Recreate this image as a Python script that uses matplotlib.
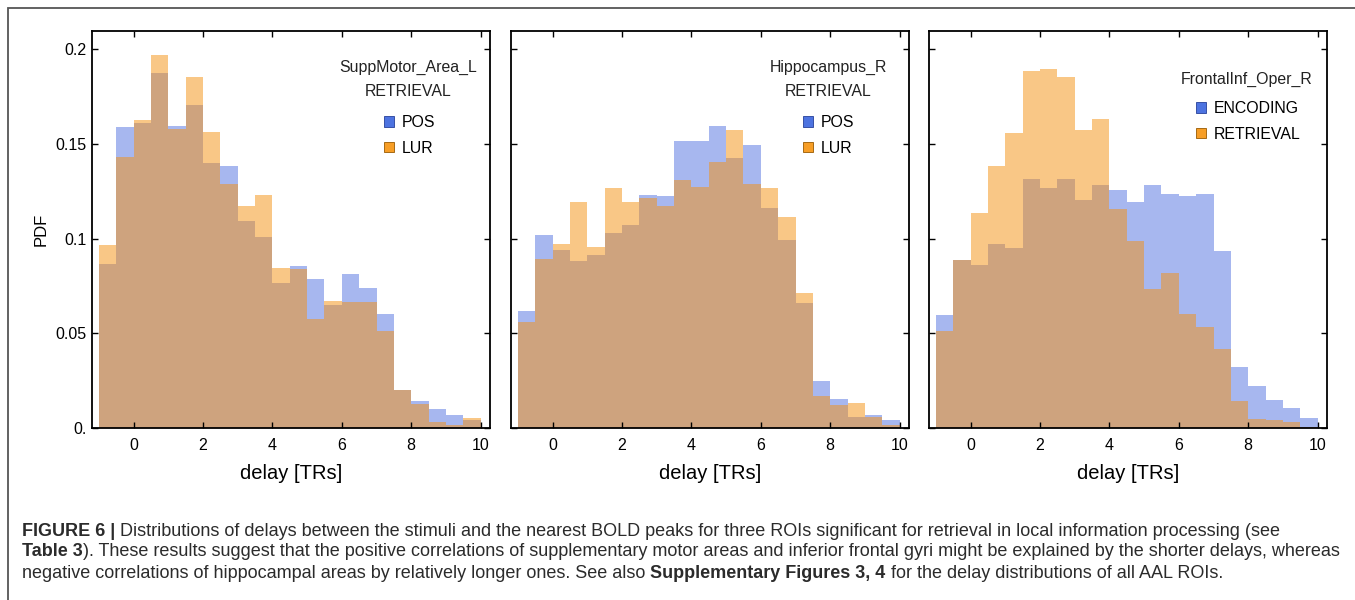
import matplotlib
matplotlib.use("Agg")
import matplotlib.pyplot as plt
import numpy as np
from matplotlib.patches import Patch, Rectangle

W, H = 1355, 600

# bin left edges, width 0.5 TR
bin_left = np.arange(-1.0, 10.0, 0.5)
BIN_W = 0.5

# panel 1: SuppMotor_Area_L, RETRIEVAL
smA_pos = [0.0865, 0.1588, 0.1610, 0.1877, 0.1595, 0.1708, 0.1402, 0.1386, 0.1091, 0.1008, 0.0765,
           0.0855, 0.0785, 0.0651, 0.0811, 0.0742, 0.0600, 0.0199, 0.0141, 0.0100, 0.0069, 0.0044]
smA_lur = [0.0964, 0.1434, 0.1627, 0.1968, 0.1578, 0.1854, 0.1562, 0.1289, 0.1175, 0.1233, 0.0846,
           0.0841, 0.0575, 0.0672, 0.0665, 0.0665, 0.0512, 0.0199, 0.0128, 0.0030, 0.0018, 0.0055]

# panel 2: Hippocampus_R, RETRIEVAL
hip_pos = [0.0616, 0.1022, 0.0938, 0.0883, 0.0916, 0.1031, 0.1071, 0.1233, 0.1226, 0.1516, 0.1516,
           0.1594, 0.1428, 0.1495, 0.1161, 0.0994, 0.0660, 0.0248, 0.0153, 0.0056, 0.0069, 0.0040]
hip_lur = [0.0559, 0.0895, 0.0973, 0.1196, 0.0957, 0.1267, 0.1196, 0.1217, 0.1170, 0.1311, 0.1275,
           0.1404, 0.1574, 0.1288, 0.1267, 0.1113, 0.0712, 0.0167, 0.0120, 0.0132, 0.0056, 0.0014]

# panel 3: FrontalInf_Oper_R, ENCODING vs RETRIEVAL
fio_enc = [0.0598, 0.0888, 0.0862, 0.0973, 0.0952, 0.1316, 0.1268, 0.1316, 0.1203, 0.1281, 0.1258,
           0.1196, 0.1286, 0.1237, 0.1226, 0.1237, 0.0934, 0.0320, 0.0220, 0.0150, 0.0104, 0.0051]
fio_ret = [0.0515, 0.0888, 0.1138, 0.1383, 0.1558, 0.1887, 0.1896, 0.1854, 0.1576, 0.1631, 0.1157,
           0.0990, 0.0732, 0.0818, 0.0602, 0.0536, 0.0417, 0.0144, 0.0049, 0.0044, 0.0030, 0.0004]

y_ticks = [0, 0.05, 0.1, 0.15, 0.2]
y_ticklabels = ["0.", "0.05", "0.1", "0.15", "0.2"]
x_ticks = [0, 2, 4, 6, 8, 10]

BLUE = (0.318, 0.443, 0.882)
ORANGE = (0.96, 0.57, 0.06)
BLUE_SW = (0.30, 0.45, 0.88)
ORANGE_SW = (0.97, 0.62, 0.15)

plt.rcParams['font.family'] = ['Liberation Sans', 'DejaVu Sans']


def fx(x):
    return x / W


def fy(y):
    return 1 - y / H


fig = plt.figure(figsize=(W / 100, H / 100), dpi=100, facecolor='w')

# outer caption box (open towards right/bottom, like the crop)
fig.patches.append(Rectangle((fx(8), -0.1), 1.2, fy(8) + 0.1, transform=fig.transFigure,
                             fill=False, edgecolor='#555555', lw=1.3))

panels = [
    dict(left=92, a=smA_pos, b=smA_lur, la="POS", lb="LUR",
         title=["SuppMotor_Area_L", "RETRIEVAL"], tx=408, ty=[67, 92], lgx=384, lgy=115),
    dict(left=511, a=hip_pos, b=hip_lur, la="POS", lb="LUR",
         title=["Hippocampus_R", "RETRIEVAL"], tx=828, ty=[67, 92], lgx=803, lgy=115),
    dict(left=929, a=fio_enc, b=fio_ret, la="ENCODING", lb="RETRIEVAL",
         title=["FrontalInf_Oper_R"], tx=1247, ty=[79], lgx=1196, lgy=101),
]

for i, p in enumerate(panels):
    ax = fig.add_axes([fx(p['left']), fy(428), 398 / W, 397 / H])
    ax.bar(bin_left, p['a'], width=BIN_W, align='edge', color=BLUE, alpha=0.5, lw=0)
    ax.bar(bin_left, p['b'], width=BIN_W, align='edge', color=ORANGE, alpha=0.5, lw=0)
    ax.set_xlim(-1.2, 10.27)
    ax.set_ylim(0, 0.2097)
    ax.set_xticks(x_ticks)
    ax.set_yticks(y_ticks)
    if i == 0:
        ax.set_yticklabels(y_ticklabels)
        ax.set_ylabel("PDF", fontsize=12, labelpad=5)
    else:
        ax.set_yticklabels([])
    ax.tick_params(direction='in', length=4, width=1, top=True, right=True,
                   labelsize=11.5, pad=7)
    ax.tick_params(axis='y', pad=4)
    for s in ax.spines.values():
        s.set_linewidth(1.3)
    ax.set_xlabel("delay [TRs]", fontsize=14.5, labelpad=8)

    for line, yy in zip(p['title'], p['ty']):
        fig.text(fx(p['tx']), fy(yy), line, ha='center', va='center', fontsize=11.4, color='#222222')

    handles = [Patch(facecolor=BLUE_SW, edgecolor=(0.15, 0.25, 0.6), lw=0.6, label=p['la']),
               Patch(facecolor=ORANGE_SW, edgecolor=(0.6, 0.35, 0.0), lw=0.6, label=p['lb'])]
    ax.legend(handles=handles, loc='upper left', bbox_to_anchor=(fx(p['lgx']), fy(p['lgy'])),
              bbox_transform=fig.transFigure, frameon=False, fontsize=11.4,
              handlelength=0.65, handleheight=0.65, handletextpad=0.5,
              labelspacing=0.68, borderpad=0, borderaxespad=0)

# caption with bold runs
caption = [
    [("FIGURE 6 | ", True),
     ("Distributions of delays between the stimuli and the nearest BOLD peaks for three ROIs "
      "significant for retrieval in local information processing (see", False)],
    [("Table 3", True),
     ("). These results suggest that the positive correlations of supplementary motor areas and "
      "inferior frontal gyri might be explained by the shorter delays, whereas", False)],
    [("negative correlations of hippocampal areas by relatively longer ones. See also ", False),
     ("Supplementary Figures 3, 4", True),
     (" for the delay distributions of all AAL ROIs.", False)],
]
caption_y = [531, 552, 573]

renderer = fig.canvas.get_renderer()
for runs, yy in zip(caption, caption_y):
    x = 22
    for txt, bold in runs:
        t = fig.text(fx(x), fy(yy), txt, ha='left', va='center', fontsize=13.0,
                     fontweight='bold' if bold else 'normal', color='#2b2b2b')
        x += t.get_window_extent(renderer=renderer).width

fig.savefig("out.png", dpi=100, facecolor='w')
